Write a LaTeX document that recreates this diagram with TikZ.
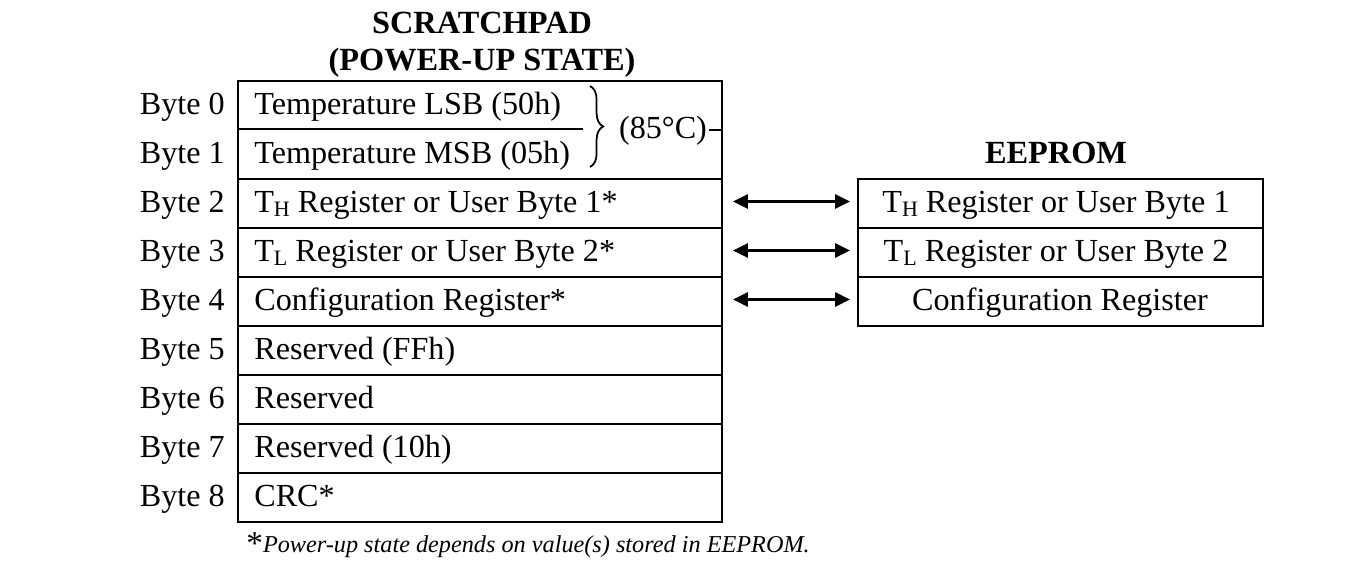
\documentclass[tikz,border=0pt]{standalone}
\usepackage{fontspec}
\setmainfont{Liberation Serif}
\usetikzlibrary{arrows.meta,decorations.pathreplacing}
\newcommand{\subH}{{\fontsize{12.5pt}{12.5pt}\selectfont\raisebox{-0.3ex}{H}}}
\newcommand{\subL}{{\fontsize{12.5pt}{12.5pt}\selectfont\raisebox{-0.3ex}{L}}}
\begin{document}
\begin{tikzpicture}[x=0.02cm,y=-0.02cm,
  txt/.style={font=\fontsize{18.3pt}{21pt}\selectfont, inner sep=0pt},
  row/.style={draw, line width=1.1pt, minimum width=9.68cm, minimum height=0.98cm, inner sep=0pt},
  erow/.style={draw, line width=1.1pt, minimum width=8.1cm, minimum height=0.98cm, inner sep=0pt},
  lbl/.style={txt, anchor=base east},
  ttl/.style={font=\fontsize{18.4pt}{21pt}\selectfont\bfseries, inner sep=0pt, anchor=base},
  dbl/.style={{Triangle[length=8.5pt,width=8pt]}-{Triangle[length=8.5pt,width=8pt]}, line width=1.2pt}
]
\useasboundingbox (0,0) rectangle (1367,570);
% titles
\node[ttl] (t1) at (482,34) {SCRATCHPAD};
\node[ttl] (t2) at (482,71) {(POWER-UP STATE)};
\node[ttl] (t3) at (1056,164) {EEPROM};
% scratchpad
\node[draw, line width=1.1pt, minimum width=9.68cm, minimum height=1.96cm, inner sep=0pt] (temp) at (480,130) {};
\node[row] (r2) at (480,203.5) {};
\node[row] (r3) at (480,252.5) {};
\node[row] (r4) at (480,301.5) {};
\node[row] (r5) at (480,350.5) {};
\node[row] (r6) at (480,399.5) {};
\node[row] (r7) at (480,448.5) {};
\node[row] (r8) at (480,497.5) {};
\coordinate (dl) at (238,129);
\coordinate (dr) at (583,129);
\draw[line width=1.1pt] (dl) -- (dr);
% row texts
\node[txt, anchor=base west] (x0) at (254,115) {Temperature LSB (50h)};
\node[txt, anchor=base west] (x1) at (254,164) {Temperature MSB (05h)};
\node[txt, anchor=base west] (x2) at (254,213) {T\subH\ Register or User Byte 1*};
\node[txt, anchor=base west] (x3) at (254,262) {T\subL\ Register or User Byte 2*};
\node[txt, anchor=base west] (x4) at (254,311) {Configuration Register*};
\node[txt, anchor=base west] (x5) at (254,360) {Reserved (FFh)};
\node[txt, anchor=base west] (x6) at (254,409) {Reserved};
\node[txt, anchor=base west] (x7) at (254,458) {Reserved (10h)};
\node[txt, anchor=base west] (x8) at (254,507) {CRC*};
% byte labels
\node[lbl] (b0) at (225,115) {Byte 0};
\node[lbl] (b1) at (225,164) {Byte 1};
\node[lbl] (b2) at (225,213) {Byte 2};
\node[lbl] (b3) at (225,262) {Byte 3};
\node[lbl] (b4) at (225,311) {Byte 4};
\node[lbl] (b5) at (225,360) {Byte 5};
\node[lbl] (b6) at (225,409) {Byte 6};
\node[lbl] (b7) at (225,458) {Byte 7};
\node[lbl] (b8) at (225,507) {Byte 8};
% brace
\coordinate (bt) at (590,86);
\coordinate (bb) at (590,167);
\draw[line width=1pt, decoration={brace, amplitude=7.5pt}, decorate] (bt) -- (bb);
\node[txt, anchor=base] (deg) at (663,139) {(85°C)};
\coordinate (dgl) at (709,130);
\coordinate (dgr) at (722,130);
\draw[line width=1.1pt] (dgl) -- (dgr);
% eeprom
\node[erow] (e2) at (1060.5,203.5) {};
\node[erow] (e3) at (1060.5,252.5) {};
\node[erow] (e4) at (1060.5,301.5) {};
\node[txt, anchor=base] (y2) at (1056,213) {T\subH\ Register or User Byte 1};
\node[txt, anchor=base] (y3) at (1056,262) {T\subL\ Register or User Byte 2};
\node[txt, anchor=base] (y4) at (1060,311) {Configuration Register};
% arrows
\draw[dbl] ([xshift=0.2cm,yshift=0.04cm]r2.east) -- ([xshift=-0.14cm,yshift=0.04cm]e2.west);
\draw[dbl] ([xshift=0.2cm,yshift=0.04cm]r3.east) -- ([xshift=-0.14cm,yshift=0.04cm]e3.west);
\draw[dbl] ([xshift=0.2cm,yshift=0.04cm]r4.east) -- ([xshift=-0.14cm,yshift=0.04cm]e4.west);
% footnote
\node[inner sep=0pt, anchor=base west] (fn) at (246,553) {\fontsize{19pt}{19pt}\selectfont\raisebox{-0.12ex}{*}\fontsize{13.8pt}{16pt}\selectfont\itshape Power-up state depends on value(s) stored in EEPROM.};
\end{tikzpicture}
\end{document}
